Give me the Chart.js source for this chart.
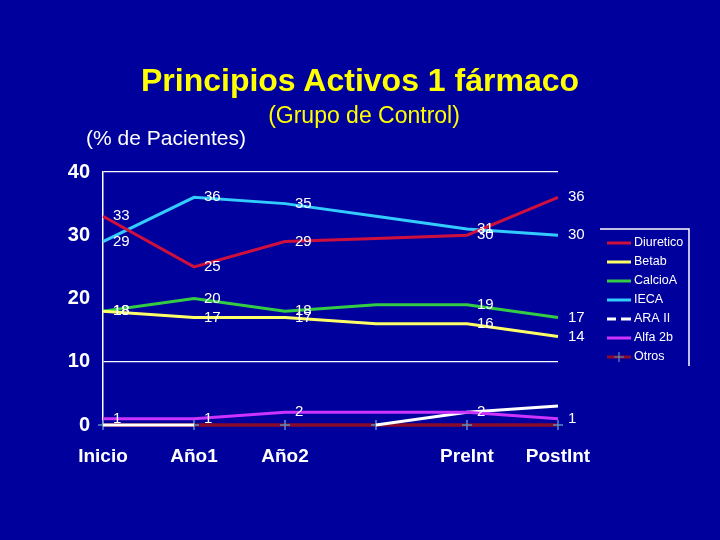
<!DOCTYPE html>
<html><head><meta charset="utf-8">
<script src="https://cdn.jsdelivr.net/npm/chart.js@4"></script>
<style>
html,body{margin:0;padding:0;background:#00009c;width:720px;height:540px;overflow:hidden;}
#wrap{position:relative;width:720px;height:540px;}
canvas{position:absolute;left:0;top:0;}
.t{position:absolute;font-family:"Liberation Sans",Arial,sans-serif;white-space:nowrap;}
</style></head><body>
<div id="wrap">
<canvas id="c" width="720" height="540"></canvas>
<div class="t" style="left:0;width:720px;text-align:center;top:61px;font-size:32px;font-weight:bold;color:#ffff00;line-height:38px">Principios Activos 1 fármaco</div>
<div class="t" style="left:4px;width:720px;text-align:center;top:101px;font-size:23px;color:#ffff00;line-height:28px">(Grupo de Control)</div>
<div class="t" style="left:86px;top:125px;font-size:21px;color:#ffffff;line-height:26px">(% de Pacientes)</div>
</div>
<script>
const categories = ['Inicio', 'Año1', 'Año2', '', 'PreInt', 'PostInt'];
const yTicks = [0, 10, 20, 30, 40];
const diuretico = [33, 25, 29, 29.5, 30, 36];
const betab     = [18, 17, 17, 16, 16, 14];
const calcioA   = [18, 20, 18, 19, 19, 17];
const ieca      = [29, 36, 35, 33, 31, 30];
const araII     = [0, 0, null, 0, 2, 3];
const alfa2b    = [1, 1, 2, 2, 2, 1];
const otros     = [0, 0, 0, 0, 0, 0];

const FONT = '"Liberation Sans", Arial, sans-serif';

// Chart.js paints index 0 on top
const series = [
  {label:'Diuretico', data:diuretico, borderColor:'#d0103c', showValues:true},
  {label:'Betab', data:betab, borderColor:'#ffff66', showValues:true},
  {label:'CalcioA', data:calcioA, borderColor:'#33cc44', showValues:true},
  {label:'IECA', data:ieca, borderColor:'#33ccff', showValues:true},
  {label:'Alfa 2b', data:alfa2b, borderColor:'#cc33ff', showValues:true},
  {label:'ARA II', data:araII, borderColor:'#ffffff', showValues:false},
  {label:'Otros', data:otros, borderColor:'#8a0a2a', showValues:false, marker:true}
];
const legendOrder = ['Diuretico','Betab','CalcioA','IECA','ARA II','Alfa 2b','Otros'];

const valuesPlugin = {
  id:'vals',
  afterDatasetsDraw(chart){
    const ctx = chart.ctx; ctx.save();
    ctx.font = '15px ' + FONT; ctx.fillStyle = '#ffffff';
    ctx.textBaseline = 'middle'; ctx.textAlign = 'left';
    chart.data.datasets.forEach((ds,i)=>{
      if(!ds.showValues) return;
      const meta = chart.getDatasetMeta(i);
      meta.data.forEach((pt,j)=>{
        if(categories[j] === '') return;
        const v = ds.data[j]; if(v == null) return;
        ctx.fillText(String(Math.round(v)), pt.x + 10, pt.y);
      });
    });
    ctx.restore();
  }
};

const legendPlugin = {
  id:'legendBox',
  afterDraw(chart){
    const ctx = chart.ctx; ctx.save();
    ctx.strokeStyle = '#ffffff'; ctx.lineWidth = 1.5;
    ctx.beginPath(); ctx.moveTo(600,229); ctx.lineTo(689,229); ctx.lineTo(689,366); ctx.stroke();
    ctx.font = '12.5px ' + FONT; ctx.textBaseline = 'middle'; ctx.textAlign = 'left';
    legendOrder.forEach((name,i)=>{
      const ds = chart.data.datasets.find(d=>d.label===name);
      const y = 243 + 19*i;
      ctx.strokeStyle = ds.borderColor; ctx.lineWidth = 3;
      if(name === 'ARA II'){
        ctx.beginPath(); ctx.moveTo(607,y); ctx.lineTo(616,y); ctx.moveTo(621,y); ctx.lineTo(631,y); ctx.stroke();
      } else {
        ctx.beginPath(); ctx.moveTo(607,y); ctx.lineTo(631,y); ctx.stroke();
      }
      if(ds.marker){
        ctx.strokeStyle = '#5a8ec0'; ctx.lineWidth = 1.2;
        ctx.beginPath(); ctx.moveTo(614,y); ctx.lineTo(624,y); ctx.moveTo(619,y-5); ctx.lineTo(619,y+5); ctx.stroke();
      }
      ctx.fillStyle = '#ffffff';
      ctx.fillText(name, 634, y);
    });
    ctx.restore();
  }
};

new Chart(document.getElementById('c'), {
  type:'line',
  data:{
    labels:categories,
    datasets:series.map(s=>({
      label:s.label, data:s.data, borderColor:s.borderColor, backgroundColor:s.borderColor,
      borderWidth: s.marker ? 3.5 : 3, tension:0, fill:false, clip:false, spanGaps:false,
      pointRadius: s.marker ? 5 : 0, pointStyle:'cross',
      pointBorderColor:'#5a8ec0', pointBorderWidth:1.5, pointHoverRadius:0,
      showValues:s.showValues, marker:!!s.marker
    }))
  },
  options:{
    responsive:false, animation:false, devicePixelRatio:1,
    layout:{padding:{top:172, right:162, left:0, bottom:0}},
    plugins:{legend:{display:false}, tooltip:{enabled:false}, title:{display:false}},
    scales:{
      x:{
        offset:false,
        grid:{display:false, drawTicks:false},
        border:{display:false},
        ticks:{color:'#ffffff', font:{family:FONT, size:19, weight:'bold'}, padding:20, maxRotation:0, autoSkip:false},
        afterFit(s){ s.height = 115; }
      },
      y:{
        min:0, max:40,
        afterBuildTicks(s){ s.ticks = yTicks.map(v=>({value:v})); },
        grid:{drawTicks:false, color:(c)=> (c.tick && (c.tick.value===10 || c.tick.value===40)) ? '#ffffff' : 'rgba(0,0,0,0)', lineWidth:1.2},
        border:{display:true, color:'#ffffff', width:1.5},
        ticks:{color:'#ffffff', font:{family:FONT, size:20, weight:'bold'}, padding:13},
        afterFit(s){ s.width = 103; }
      }
    }
  },
  plugins:[valuesPlugin, legendPlugin]
});
</script>
</body></html>
